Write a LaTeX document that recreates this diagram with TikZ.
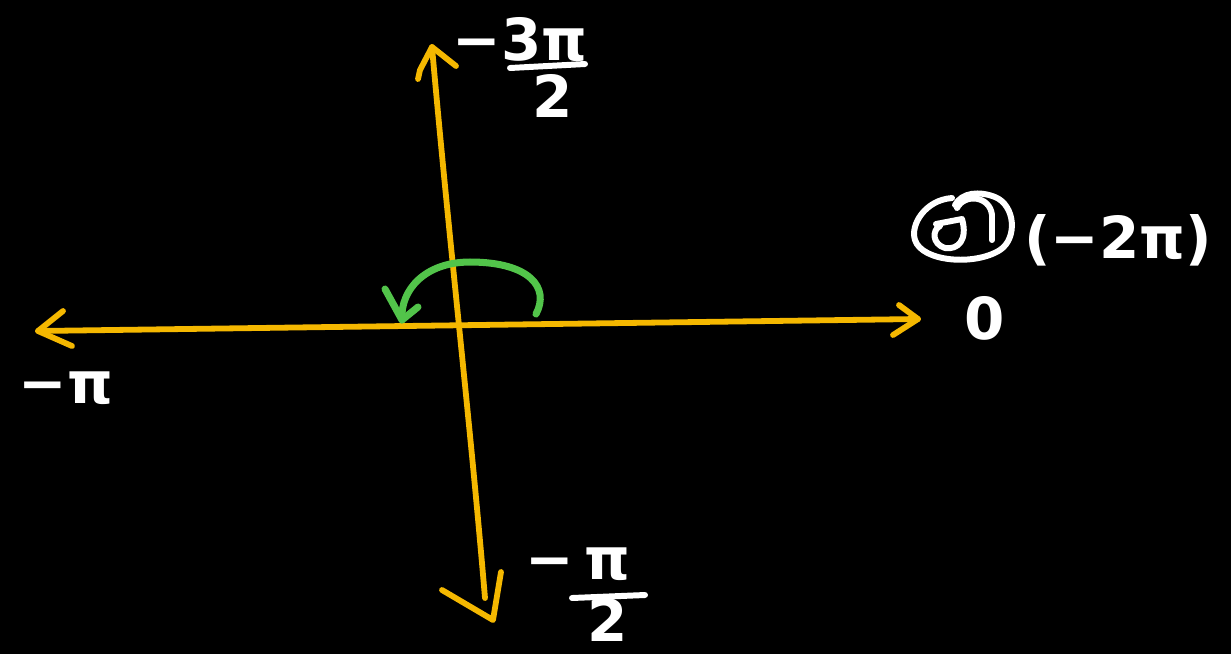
\documentclass[tikz,border=0pt]{standalone}
\usepackage{fontspec}
\setmainfont{DejaVu Sans}
\begin{document}
\begin{tikzpicture}[x=0.02cm,y=-0.02cm,
  axis/.style={draw={rgb,255:red,245;green,184;blue,0},line width=3.3pt,line cap=round,line join=round},
  turn/.style={draw={rgb,255:red,82;green,196;blue,74},line width=4pt,line cap=round,line join=round},
  chalk/.style={draw=white,line width=3.4pt,line cap=round,line join=round},
  lbl/.style={text=white,font=\fontsize{33}{40}\selectfont\bfseries,inner sep=0pt}]
\fill[black] (0,0) rectangle (1231,654);
\useasboundingbox (0,0) rectangle (1231,654);
% axes
\coordinate (L) at (38,331);
\coordinate (R) at (918,319);
\coordinate (T) at (432,47);
\coordinate (B) at (485,598);
\coordinate (Btip) at (493,620);
\path[axis] (L) -- (R);
\path[axis] (T) .. controls (450,250) and (470,420) .. (B);
% arrowheads
\path[axis] (63,311) -- (L) -- (72,346);
\path[axis] (899,305) -- (R) -- (893,335);
\path[axis] (418,79) -- (420,70) -- (T) -- (456,66);
\path[axis] (442,590) -- (Btip) -- (501,572);
% green turning arrow
\coordinate (gs) at (536,314);
\coordinate (ge) at (402,320);
\path[turn] (gs) .. controls (550,288) and (530,262) .. (470,262)
  .. controls (425,262) and (400,290) .. (ge);
\path[turn] (385,289) -- (ge) -- (418,307);
% labels
\node[lbl] (n1) at (520,40) {−3π};
\coordinate (b1a) at (510,68); \coordinate (b1b) at (585,64);
\path[chalk] (b1a) -- (b1b);
\node[lbl] (d1) at (553,96) {2};
\node[lbl] (n2) at (578,564) {−\,π};
\coordinate (b2a) at (572,598); \coordinate (b2b) at (645,595);
\path[chalk] (b2a) -- (b2b);
\node[lbl] (d2) at (608,620) {2};
\node[lbl] (mpi) at (66,388) {−π};
\node[lbl] (zero) at (985,318) {0};
\node[lbl] (m2pi) at (1118,240) {(−2π)};
% circled glyph
\path[chalk] (952,198) .. controls (925,200) and (910,225) .. (915,240)
  .. controls (922,262) and (975,266) .. (1000,250)
  .. controls (1018,238) and (1015,205) .. (995,197)
  .. controls (980,191) and (962,192) .. (955,205);
\path[chalk] (957,208) .. controls (965,193) and (990,196) .. (992,215)
  -- (992,240);
\path[chalk] (936,224) -- (962,219)
  .. controls (968,240) and (958,250) .. (945,248)
  .. controls (932,244) and (932,230) .. (940,226);
\end{tikzpicture}
\end{document}
